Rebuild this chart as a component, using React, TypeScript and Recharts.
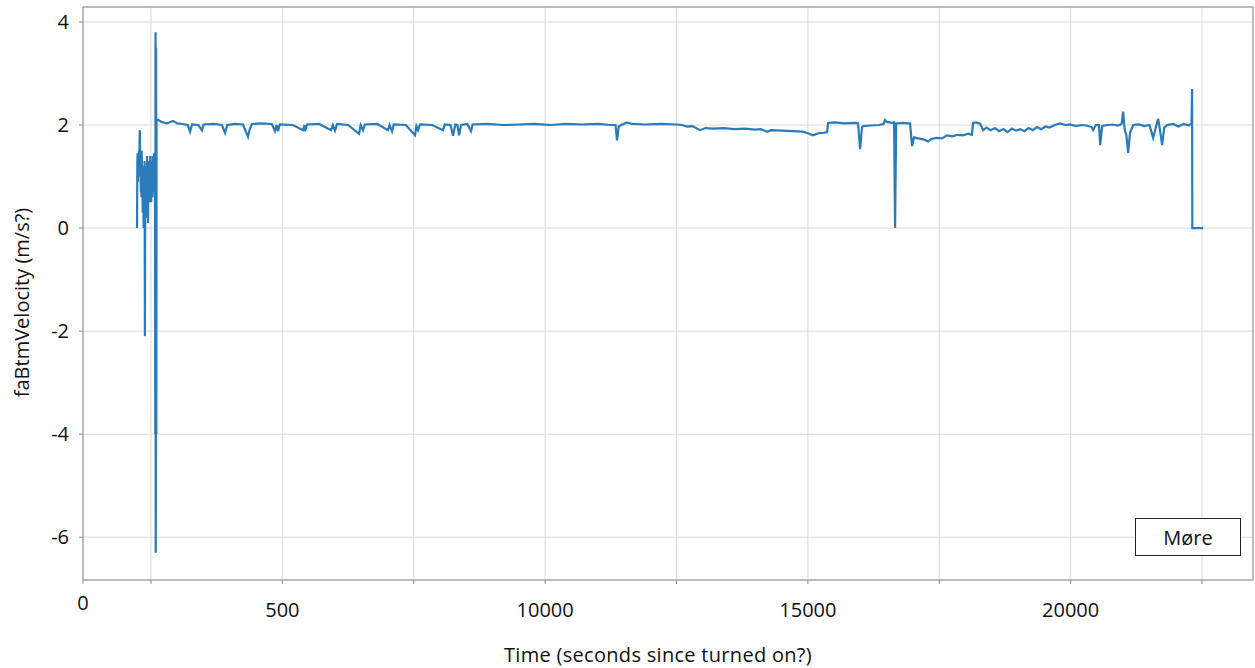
import { LineChart, Line, XAxis, YAxis, CartesianGrid, Legend, ReferenceLine } from "recharts";

// time since power-on (s) and bottom-track velocity
const timeSec = [
  2234, 2240, 2246, 2252, 2258, 2264, 2270, 2276, 2282, 2288, 2294, 2300, 2306, 2312, 2318, 2324, 2330, 2336,
  2342, 2348, 2354, 2360, 2366, 2372, 2378, 2384, 2390, 2396, 2402, 2408, 2414, 2420, 2426, 2432, 2438, 2444,
  2450, 2456, 2462, 2468, 2474, 2480, 2486, 2492, 2498, 2504, 2510, 2516, 2522, 2528, 2534, 2540, 2546, 2552,
  2558, 2564, 2570, 2576, 2582, 2586, 2590, 2594, 2598, 2602, 2606, 2612,
  2634, 2700, 2800, 2919, 3000, 3100, 3200, 3243, 3280, 3400, 3471, 3500, 3700, 3850, 3909, 3950, 4100, 4250,
  4346, 4380, 4420, 4600, 4800, 4860, 4890, 4917, 4950, 5200, 5393, 5420, 5431, 5470, 5700, 5926, 5960, 6002,
  6040, 6250, 6459, 6490, 6535, 6570, 6800, 7011, 7040, 7087, 7120, 7350, 7524, 7550, 7581, 7620, 7850, 8057,
  8090, 8200, 8247, 8290, 8330, 8362, 8400, 8520, 8590, 8620, 8900, 9200, 9500, 9800, 10100, 10400, 10700,
  11000, 11250, 11340, 11368, 11400, 11450, 11559, 11650, 11900, 12200, 12500, 12605,
  12700, 12800, 12948, 13050, 13200, 13400, 13600, 13800, 14000, 14100, 14223, 14300, 14500, 14700, 14900,
  15000, 15098, 15200, 15300, 15365, 15384, 15500, 15700, 15900, 15955, 15993, 16030, 16050, 16200, 16350,
  16440, 16468, 16500, 16600, 16640, 16659, 16680, 16800, 16900, 16944, 16982, 17020, 17100, 17200, 17287,
  17350, 17450, 17550, 17648, 17750, 17850, 17950, 18050, 18120, 18143,
  18200, 18280, 18334, 18400, 18480, 18560, 18640, 18720, 18800, 18880, 18960, 19040, 19120, 19200, 19280,
  19360, 19440, 19520, 19600, 19700, 19799, 19900, 19990, 20100, 20200, 20300, 20400, 20428, 20480, 20540,
  20561, 20600, 20700, 20800, 20900, 20970, 20999, 21030, 21060, 21094, 21130, 21189, 21300, 21400, 21500,
  21570, 21620, 21665, 21700, 21741, 21780, 21836, 21950, 22050, 22150, 22250, 22300, 22311, 22315, 22521,
];

const velocity = [
  0, 1.25, 1.45, 0.9, 1.3, 1.1, 1.5, 1.0, 1.7, 1.9, 1.2, 1.5, 0.7, 1.3, 0.6, 1.5, 0.8, 1.2,
  0.3, 1.1, 0.5, 0.0, 1.0, 0.6, 1.3, -2.1, 0.9, 0.4, 1.2, 0.5, 0.9, 0.2, 1.4, 0.7, 1.0, 0.1,
  0.9, 0.6, 1.3, 0.5, 1.1, 0.7, 1.4, 0.6, 1.0, 0.5, 1.3, 0.8, 1.2, 0.6, 1.4, 0.9, 1.2, 0.7,
  1.45, 1.0, 1.4, 0.6, -4.0, 3.8, -6.3, -5.2, 3.5, -4.0, 2.1, 2.1,
  2.1, 2.06, 2.03, 2.08, 2.03, 2.02, 2.0, 1.87, 2.01, 2.0, 1.9, 2.01, 2.02, 2.0, 1.85, 2.0, 2.02, 2.01,
  1.77, 1.92, 2.02, 2.03, 2.02, 1.88, 2.0, 1.88, 2.01, 2.0, 1.9, 2.0, 1.88, 2.01, 2.02, 1.9, 2.0, 1.89,
  2.02, 2.0, 1.83, 2.0, 1.9, 2.01, 2.02, 1.9, 2.0, 1.88, 2.01, 2.0, 1.8, 1.98, 1.9, 2.01, 2.0, 1.9,
  2.01, 2.0, 1.79, 2.01, 2.0, 1.8, 2.0, 2.02, 1.88, 2.01, 2.02, 2.0, 2.01, 2.02, 2.0, 2.02, 2.01,
  2.02, 2.0, 2.0, 1.7, 1.97, 2.0, 2.05, 2.02, 2.01, 2.02, 2.01, 2.0,
  1.97, 1.98, 1.9, 1.94, 1.93, 1.94, 1.92, 1.93, 1.91, 1.92, 1.87, 1.9, 1.89, 1.88, 1.87,
  1.84, 1.8, 1.84, 1.85, 1.86, 2.04, 2.05, 2.03, 2.04, 2.03, 1.53, 1.96, 1.98, 1.99, 2.0,
  2.02, 2.1, 2.06, 2.04, 2.05, 0.0, 2.03, 2.04, 2.03, 2.03, 1.59, 1.76, 1.74, 1.72, 1.68,
  1.73, 1.75, 1.74, 1.8, 1.78, 1.81, 1.8, 1.83, 1.81, 2.04,
  2.05, 2.02, 1.9, 1.95, 1.9, 1.94, 1.88, 1.92, 1.86, 1.93, 1.89, 1.92, 1.88, 1.94, 1.9,
  1.96, 1.92, 1.97, 1.95, 2.0, 2.03, 2.0, 2.01, 1.98, 2.0, 1.99, 1.96, 1.9, 2.0, 2.0,
  1.61, 1.98, 2.0, 2.01, 1.99, 2.02, 2.26, 1.9, 1.8, 1.46, 1.85, 2.0, 2.01, 1.98, 2.0,
  1.75, 1.95, 2.12, 1.9, 1.61, 1.95, 2.0, 2.02, 1.97, 2.02, 1.99, 2.03, 2.7, 0, 0,
];

const xTicks = [1206, 2500, 5000, 7500, 10000, 12500, 15000, 17500, 20000, 22500];
const xTickLabels: Record<number, string> = { 1206: "0", 5000: "500", 10000: "10000", 15000: "15000", 20000: "20000" };
const yTicks = [-6, -4, -2, 0, 2, 4];

const data = timeSec.map((t, i) => ({ t, v: velocity[i] }));

const FONT = "'Open Sans', sans-serif";
const AXIS = "#8c8c8c";
const TEXT = "#111";

function XTick({ x, y, payload }: any) {
  const label = xTickLabels[payload.value];
  if (!label) return null;
  const first = payload.value === xTicks[0];
  return (
    <text x={x} y={first ? y + 24 : y + 31} textAnchor="middle" fontSize={20} fill={TEXT} fontFamily={FONT}>
      {label}
    </text>
  );
}

function YTitle({ viewBox }: any) {
  const cx = 21;
  const cy = viewBox.y + viewBox.height / 2 + 9;
  return (
    <text
      x={cx}
      y={cy}
      transform={`rotate(-90 ${cx} ${cy})`}
      textAnchor="middle"
      dominantBaseline="central"
      fontSize={20}
      fill={TEXT}
      fontFamily={FONT}
    >
      faBtmVelocity (m/s?)
    </text>
  );
}

function LegendBox() {
  return (
    <div
      style={{
        boxSizing: "border-box",
        width: 106,
        height: 38,
        border: "1px solid #222",
        background: "#fff",
        display: "flex",
        alignItems: "center",
        justifyContent: "center",
        fontFamily: FONT,
        fontSize: 20,
        color: TEXT,
      }}
    >
      Møre
    </div>
  );
}

export default function App() {
  return (
    <div style={{ position: "absolute", left: 0, top: 0, background: "#fff" }}>
      <LineChart width={1255} height={668} data={data} margin={{ top: 7, right: 2, bottom: 0, left: 0 }}>
        <CartesianGrid stroke="#d9d9d9" />
        <XAxis
          dataKey="t"
          type="number"
          domain={[1206, 23470]}
          ticks={xTicks}
          allowDataOverflow
          height={88}
          tickSize={4}
          stroke={AXIS}
          tick={<XTick />}
          label={{
            value: "Time (seconds since turned on?)",
            position: "insideBottom",
            offset: 6,
            dx: -10,
            fontSize: 20,
            fill: TEXT,
            fontFamily: FONT,
            letterSpacing: 0.3,
          }}
        />
        <YAxis
          type="number"
          domain={[-6.83, 4.29]}
          ticks={yTicks}
          allowDataOverflow
          width={83}
          tickSize={4}
          tickMargin={10}
          stroke={AXIS}
          tick={{ fontSize: 20, fill: TEXT, fontFamily: FONT }}
          label={<YTitle />}
        />
        <ReferenceLine y={4.29} stroke={AXIS} />
        <ReferenceLine x={23470} stroke={AXIS} />
        <Legend
          layout="horizontal"
          verticalAlign="middle"
          content={<LegendBox />}
          wrapperStyle={{ position: "absolute", left: 1135, top: 518, width: 106, height: 38 }}
        />
        <Line
          dataKey="v"
          name="Møre"
          type="linear"
          dot={false}
          stroke="#2b7bba"
          strokeWidth={2.2}
          isAnimationActive={false}
        />
      </LineChart>
    </div>
  );
}
